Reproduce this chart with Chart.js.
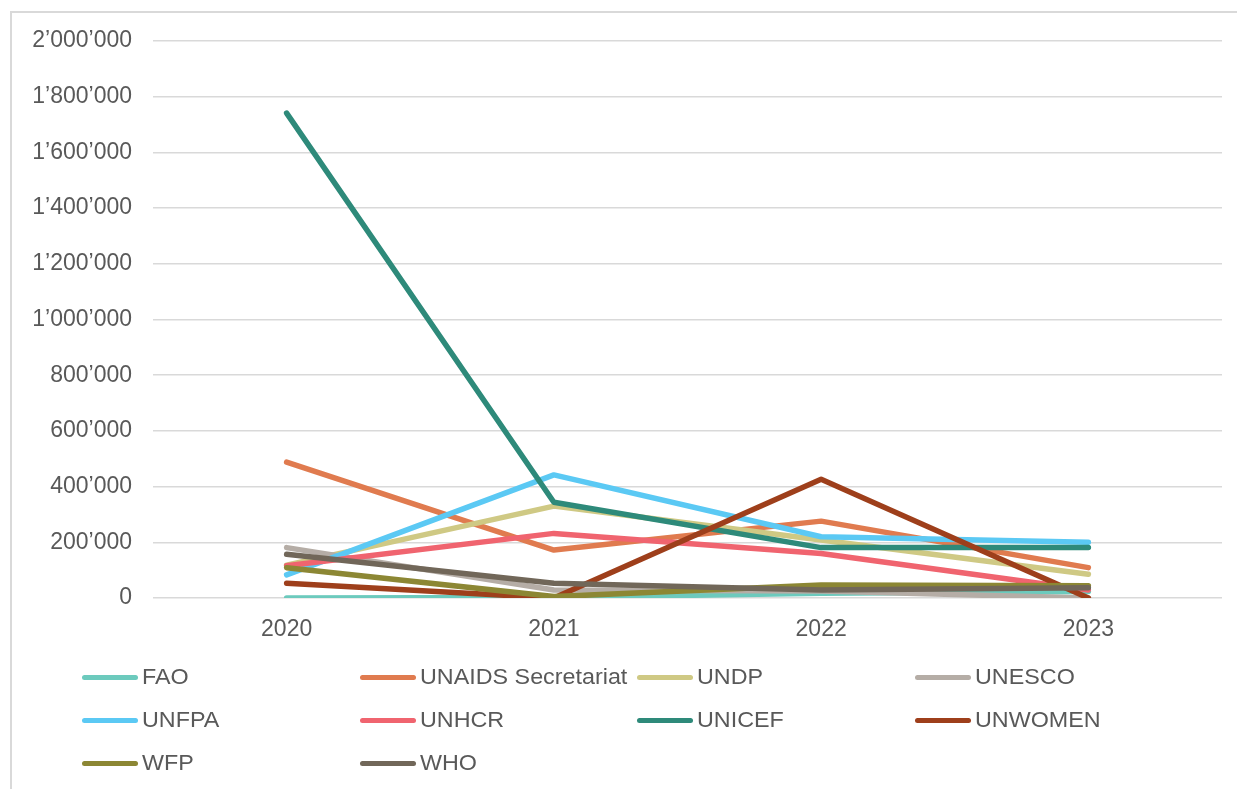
<!DOCTYPE html>
<html>
<head>
<meta charset="utf-8">
<script src="https://cdn.jsdelivr.net/npm/chart.js@4/dist/chart.umd.min.js"></script>
<style>
  html, body { margin: 0; padding: 0; background: #ffffff; }
  #wrap { position: relative; width: 1237px; height: 789px; overflow: hidden; }
  #frame { position: absolute; left: 10px; top: 11px; width: 1300px; height: 900px; border: 2px solid #d9d9d9; box-sizing: border-box; }
  #chart { position: absolute; left: 0; top: 0; }
  #legend { position: absolute; left: 0; top: 0; width: 1237px; height: 789px; pointer-events: none;
            font-family: "Liberation Sans", Arial, sans-serif; font-size: 22px; color: #595959; }
  .item { position: absolute; display: flex; align-items: center; height: 30px; white-space: nowrap; }
  .swatch { width: 56px; height: 5px; border-radius: 3px; margin-right: 4px; }
  .item span { display: inline-block; transform-origin: left center; transform: scaleX(1.06); }
</style>
</head>
<body>
<div id="wrap">
  <div id="frame"></div>
  <canvas id="chart" width="1237" height="789"></canvas>
  <div id="legend"></div>
</div>
<script>
const years = ["2020", "2021", "2022", "2023"];
const seriesNames = ["FAO", "UNAIDS Secretariat", "UNDP", "UNESCO", "UNFPA", "UNHCR", "UNICEF", "UNWOMEN", "WFP", "WHO"];
const FAO = [0, 2000, 17000, 23000];
const UNAIDS = [488000, 172000, 276000, 109000];
const UNDP = [118000, 330000, 208000, 85000];
const UNESCO = [181000, 29000, 25000, 0];
const UNFPA = [83000, 442000, 220000, 200000];
const UNHCR = [116000, 232000, 160000, 29000];
const UNICEF = [1741000, 344000, 181000, 181000];
const UNWOMEN = [53000, 0, 426000, 0];
const WFP = [109000, 5000, 47000, 44000];
const WHO = [157000, 53000, 29000, 37000];
const yTicks = [0, 200000, 400000, 600000, 800000, 1000000, 1200000, 1400000, 1600000, 1800000, 2000000];

const seriesValues = [FAO, UNAIDS, UNDP, UNESCO, UNFPA, UNHCR, UNICEF, UNWOMEN, WFP, WHO];
const colors = ["#6ccabd", "#e07b4f", "#cfc984", "#b5ada6", "#5bc9f4", "#f0646f", "#2e8a7a", "#9e3f1b", "#8c8734", "#716759"];

const datasets = seriesNames.map((name, i) => ({
  label: name,
  data: seriesValues[i],
  borderColor: colors[i],
  backgroundColor: colors[i],
  borderWidth: 5.5,
  pointRadius: 0,
  pointHoverRadius: 0,
  tension: 0,
  fill: false,
  borderCapStyle: 'round',
  borderJoinStyle: 'round',
  order: seriesNames.length - i
}));

const font = { family: '"Liberation Sans", Arial, sans-serif', size: 23 };

new Chart(document.getElementById('chart'), {
  type: 'line',
  data: { labels: years, datasets },
  options: {
    responsive: false,
    animation: false,
    devicePixelRatio: 1,
    layout: { padding: { left: 0, right: 15, top: 41, bottom: 131 } },
    plugins: { legend: { display: false }, tooltip: { enabled: false } },
    scales: {
      x: {
        offset: true,
        grid: { display: false, drawTicks: false },
        border: { display: false },
        ticks: { color: '#595959', font, padding: 18, maxRotation: 0 },
        afterFit: (s) => { s.height = 60; }
      },
      y: {
        min: 0,
        max: 2000000,
        afterBuildTicks: (s) => { s.ticks = yTicks.map(v => ({ value: v })); },
        grid: { color: '#d9d9d9', lineWidth: 1.5, drawTicks: false },
        border: { display: false },
        ticks: {
          color: '#595959', font, padding: 21,
          callback: (v) => String(v).replace(/\B(?=(\d{3})+(?!\d))/g, '\u2019')
        },
        afterFit: (s) => { s.width = 153; }
      }
    }
  }
});

// Legend built from the same series names/colours
const legend = document.getElementById('legend');
const colX = [82, 360, 637, 915];
const rowY = [677, 720, 763];
seriesNames.forEach((name, i) => {
  const el = document.createElement('div');
  el.className = 'item';
  el.style.left = colX[i % 4] + 'px';
  el.style.top = (rowY[Math.floor(i / 4)] - 15) + 'px';
  const sw = document.createElement('div');
  sw.className = 'swatch';
  sw.style.background = colors[i];
  const tx = document.createElement('span');
  tx.textContent = name;
  el.appendChild(sw);
  el.appendChild(tx);
  legend.appendChild(el);
});
</script>
</body>
</html>
